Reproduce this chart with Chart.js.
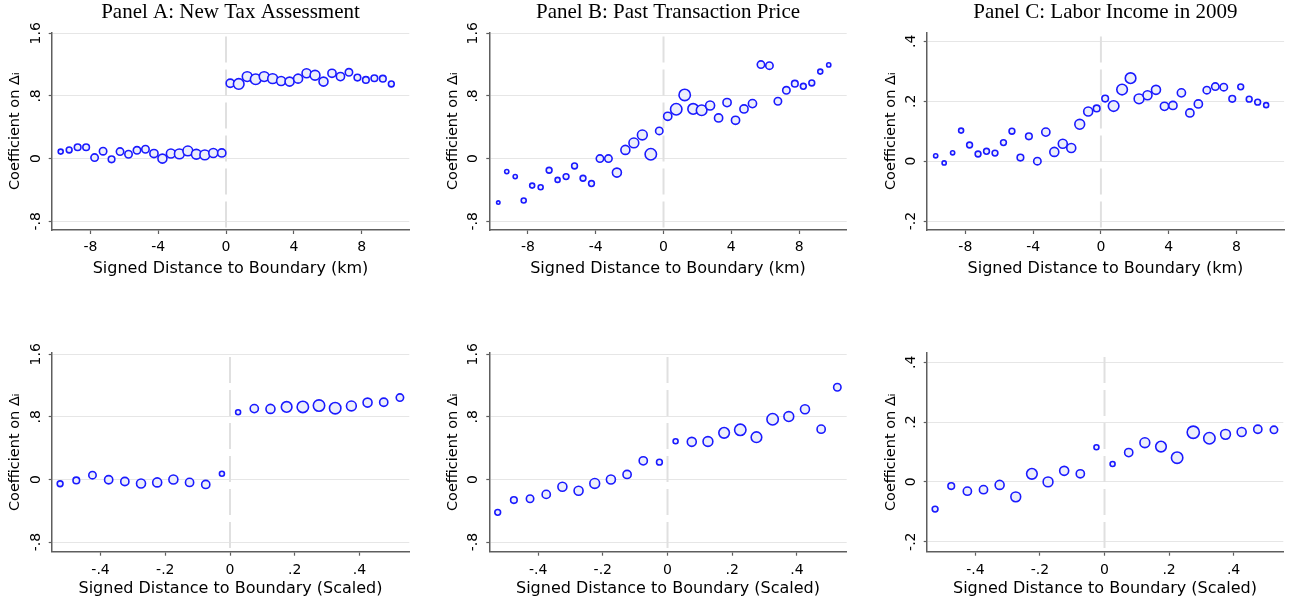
<!DOCTYPE html>
<html><head><meta charset="utf-8">
<script src="https://cdn.jsdelivr.net/npm/chart.js@4.4.1/dist/chart.umd.min.js"></script>
<style>
html,body{margin:0;padding:0;background:#fff;}
body{width:1291px;height:603px;position:relative;overflow:hidden;}
canvas{position:absolute;}
</style></head><body>
<canvas id="pA" width="420" height="290" style="left:0px;top:0px"></canvas>
<canvas id="pB" width="430" height="290" style="left:430px;top:0px"></canvas>
<canvas id="pC" width="431" height="290" style="left:860px;top:0px"></canvas>
<canvas id="pD" width="420" height="303" style="left:0px;top:300px"></canvas>
<canvas id="pE" width="430" height="303" style="left:430px;top:300px"></canvas>
<canvas id="pF" width="431" height="303" style="left:860px;top:300px"></canvas>
<script>
// ---------- DATA ----------
const titleA = 'Panel A: New Tax Assessment';
const titleB = 'Panel B: Past Transaction Price';
const titleC = 'Panel C: Labor Income in 2009';
const xTitleKm = 'Signed Distance to Boundary (km)';
const xTitleScaled = 'Signed Distance to Boundary (Scaled)';
const yTitle = 'Coefficient on \u0394\u1D62';

const binsKm = [-9.75,-9.25,-8.75,-8.25,-7.75,-7.25,-6.75,-6.25,-5.75,-5.25,-4.75,-4.25,-3.75,-3.25,-2.75,-2.25,-1.75,-1.25,-0.75,-0.25,
                 0.25,0.75,1.25,1.75,2.25,2.75,3.25,3.75,4.25,4.75,5.25,5.75,6.25,6.75,7.25,7.75,8.25,8.75,9.25,9.75];
const binsScaled = [-0.525,-0.475,-0.425,-0.375,-0.325,-0.275,-0.225,-0.175,-0.125,-0.075,-0.025,
                     0.025,0.075,0.125,0.175,0.225,0.275,0.325,0.375,0.425,0.475,0.525];

const coefA = [0.089,0.110,0.145,0.145,0.013,0.094,-0.009,0.089,0.055,0.106,0.119,0.064,0.000,0.064,0.060,0.098,0.055,0.047,0.072,0.072,
               0.962,0.953,1.047,1.013,1.047,1.021,0.991,0.983,1.021,1.089,1.064,0.983,1.089,1.047,1.102,1.034,1.004,1.026,1.021,0.953];
const weightA = [49,64,81,81,100,100,81,100,100,100,100,121,144,144,169,169,169,169,144,121,
                 121,196,169,196,169,169,144,144,144,144,169,144,121,121,100,81,81,81,81,64];

const coefB = [-0.562,-0.166,-0.230,-0.536,-0.345,-0.366,-0.149,-0.272,-0.230,-0.094,-0.251,-0.319,0.000,0.000,-0.179,0.111,0.200,0.302,0.055,0.353,
               0.540,0.630,0.813,0.634,0.617,0.677,0.519,0.715,0.489,0.634,0.702,1.200,1.187,0.732,0.872,0.957,0.923,0.966,1.111,1.196];
const weightB = [25,36,36,49,49,49,64,49,64,64,64,64,100,100,144,144,169,169,225,100,
                 121,225,225,196,196,144,121,121,121,121,121,100,100,100,100,81,64,64,49,36];

const coefC = [0.018,-0.006,0.028,0.102,0.054,0.024,0.033,0.027,0.062,0.100,0.012,0.083,0.000,0.097,0.031,0.058,0.044,0.123,0.166,0.176,
               0.209,0.184,0.239,0.277,0.208,0.220,0.238,0.183,0.186,0.228,0.161,0.191,0.237,0.249,0.247,0.208,0.248,0.207,0.197,0.187];
const weightC = [36,36,36,49,64,64,64,64,64,64,81,81,100,121,144,144,144,169,144,81,
                 81,196,196,196,169,144,144,121,121,121,121,121,100,100,100,81,64,64,64,49];

const coefD = [-0.055,-0.013,0.055,-0.004,-0.026,-0.051,-0.038,0.000,-0.038,-0.064,0.072,
               0.860,0.906,0.902,0.928,0.928,0.945,0.911,0.940,0.983,0.987,1.047];
const weightD = [64,81,100,121,121,144,144,144,121,121,49,49,121,144,196,225,225,225,169,144,121,100];

const coefE = [-0.421,-0.264,-0.247,-0.191,-0.094,-0.145,-0.051,0.000,0.064,0.238,0.221,
               0.489,0.481,0.485,0.596,0.634,0.540,0.770,0.804,0.898,0.643,1.179];
const weightE = [64,81,100,121,144,144,169,144,121,121,64,49,144,169,196,225,196,225,169,144,121,100];

const coefF = [-0.091,-0.014,-0.031,-0.026,-0.010,-0.050,0.027,0.000,0.037,0.027,0.116,
               0.060,0.098,0.131,0.118,0.081,0.166,0.146,0.159,0.167,0.176,0.174];
const weightF = [64,81,121,121,144,169,196,169,144,121,49,49,121,169,196,225,256,225,169,144,121,100];

const xTicksKm = [-8,-4,0,4,8];
const xLabelsKm = ['-8','-4','0','4','8'];
const xTicksScaled = [-0.4,-0.2,0,0.2,0.4];
const xLabelsScaled = ['-.4','-.2','0','.2','.4'];
const yTicksPrice = [-0.8,0,0.8,1.6];
const yLabelsPrice = ['-.8','0','.8','1.6'];
const yTicksIncome = [-0.2,0,0.2,0.4];
const yLabelsIncome = ['-.2','0','.2','.4'];
const boundaryX = 0;

// ---------- STYLE / LAYOUT ----------
Chart.defaults.font.family = "'DejaVu Sans', sans-serif";
const AXIS_COLOR = '#5e5e5e';
const GRID_COLOR = '#e6e6e6';
const MARKER_EDGE = '#1a1aff';
const MARKER_FILL = '#eceefb';
const radiusOf = w => Math.sqrt(w) * 0.4 - 0.3;

function makeChart(id, p) {
  const pts = p.xs.map((x, i) => ({x: x, y: p.ys[i]}));
  const refLine = [{x: boundaryX, y: p.yMax}, {x: boundaryX, y: p.yMin}];
  new Chart(document.getElementById(id), {
    type: 'scatter',
    data: {
      datasets: [
        {
          data: pts,
          pointRadius: ctx => radiusOf(p.ws[ctx.dataIndex]),
          pointHoverRadius: ctx => radiusOf(p.ws[ctx.dataIndex]),
          pointBackgroundColor: MARKER_FILL,
          pointBorderColor: MARKER_EDGE,
          pointBorderWidth: 1.6,
          showLine: false
        },
        {
          type: 'line',
          data: refLine,
          borderColor: '#e0e0e0',
          borderWidth: 2,
          borderDash: [26, 7],
          borderDashOffset: -4,
          pointRadius: 0,
          fill: false
        }
      ]
    },
    options: {
      responsive: false,
      animation: false,
      events: [],
      layout: {padding: p.pad},
      plugins: {
        legend: {display: false},
        tooltip: {enabled: false},
        title: p.title ? {
          display: true, text: p.title, fullSize: false, color: '#000',
          font: {family: "'Liberation Serif', 'Times New Roman', serif", size: 21, weight: 'normal', lineHeight: 1.2},
          padding: {top: 0, bottom: 7.3}
        } : {display: false}
      },
      scales: {
        x: {
          type: 'linear', min: p.xMin, max: p.xMax,
          afterBuildTicks: s => { s.ticks = p.xTicks.map(v => ({value: v})); },
          afterFit: s => { s.height = p.xH; },
          ticks: {
            callback: (v, i) => p.xLabels[i],
            color: '#000', font: {size: 14}, padding: p.xTickPad,
            maxRotation: 0, minRotation: 0, autoSkip: false
          },
          grid: {drawOnChartArea: false, drawTicks: true, tickLength: 4, tickColor: AXIS_COLOR, tickWidth: 1.2},
          border: {display: true, color: AXIS_COLOR, width: 1.5},
          title: {display: true, text: p.xTitle, color: '#000', font: {size: 16, lineHeight: 1.2}, padding: 0}
        },
        y: {
          type: 'linear', min: p.yMin, max: p.yMax,
          afterBuildTicks: s => { s.ticks = p.yTicks.map(v => ({value: v})); },
          afterFit: s => { s.width = p.yW; },
          ticks: {
            callback: (v, i) => p.yLabels[i],
            color: '#000', font: {size: 14}, padding: p.yTickPad,
            minRotation: 90, maxRotation: 90, crossAlign: 'center', autoSkip: false
          },
          grid: {drawOnChartArea: true, color: GRID_COLOR, lineWidth: 1, drawTicks: true, tickLength: 3, tickColor: AXIS_COLOR, tickWidth: 1.2},
          border: {display: true, color: AXIS_COLOR, width: 1.5},
          title: {display: true, text: yTitle, color: '#000', font: {size: 14.5, lineHeight: 1.2}, padding: 0}
        }
      }
    }
  });
}

const kmRange = {xMin: -10.28, xMax: 10.81};
const scRange = {xMin: -0.551, xMax: 0.554};
const topRow = {xH: 48.1, xTickPad: 5};
const botRow = {xH: 47.2, xTickPad: 5.8};

makeChart('pA', Object.assign({title: titleA, xs: binsKm, ys: coefA, ws: weightA, xTicks: xTicksKm, xLabels: xLabelsKm, xTitle: xTitleKm,
  yTicks: yTicksPrice, yLabels: yLabelsPrice, yMin: -0.912, yMax: 1.610, yW: 45.4, yTickPad: 1.6,
  pad: {left: 6.3, right: 10.7, top: 0, bottom: 11.9}}, kmRange, topRow));
makeChart('pB', Object.assign({title: titleB, xs: binsKm, ys: coefB, ws: weightB, xTicks: xTicksKm, xLabels: xLabelsKm, xTitle: xTitleKm,
  yTicks: yTicksPrice, yLabels: yLabelsPrice, yMin: -0.912, yMax: 1.610, yW: 45, yTickPad: 1.6,
  pad: {left: 14.3, right: 13.3, top: 0, bottom: 11.9}}, kmRange, topRow));
makeChart('pC', Object.assign({title: titleC, xs: binsKm, ys: coefC, ws: weightC, xTicks: xTicksKm, xLabels: xLabelsKm, xTitle: xTitleKm,
  yTicks: yTicksIncome, yLabels: yLabelsIncome, yMin: -0.2297, yMax: 0.4294, yW: 43.7, yTickPad: 3.5,
  pad: {left: 23, right: 6, top: 0, bottom: 11.9}}, kmRange, topRow));
makeChart('pD', Object.assign({title: null, xs: binsScaled, ys: coefD, ws: weightD, xTicks: xTicksScaled, xLabels: xLabelsScaled, xTitle: xTitleScaled,
  yTicks: yTicksPrice, yLabels: yLabelsPrice, yMin: -0.924, yMax: 1.617, yW: 45.4, yTickPad: 1.6,
  pad: {left: 6.3, right: 10.7, top: 53, bottom: 4.1}}, scRange, botRow));
makeChart('pE', Object.assign({title: null, xs: binsScaled, ys: coefE, ws: weightE, xTicks: xTicksScaled, xLabels: xLabelsScaled, xTitle: xTitleScaled,
  yTicks: yTicksPrice, yLabels: yLabelsPrice, yMin: -0.924, yMax: 1.617, yW: 45, yTickPad: 1.6,
  pad: {left: 14.3, right: 13.3, top: 53, bottom: 4.1}}, scRange, botRow));
makeChart('pF', Object.assign({title: null, xs: binsScaled, ys: coefF, ws: weightF, xTicks: xTicksScaled, xLabels: xLabelsScaled, xTitle: xTitleScaled,
  yTicks: yTicksIncome, yLabels: yLabelsIncome, yMin: -0.2334, yMax: 0.431, yW: 43.7, yTickPad: 3.5,
  pad: {left: 23, right: 6, top: 53, bottom: 4.1}}, scRange, botRow));
</script>
</body></html>
